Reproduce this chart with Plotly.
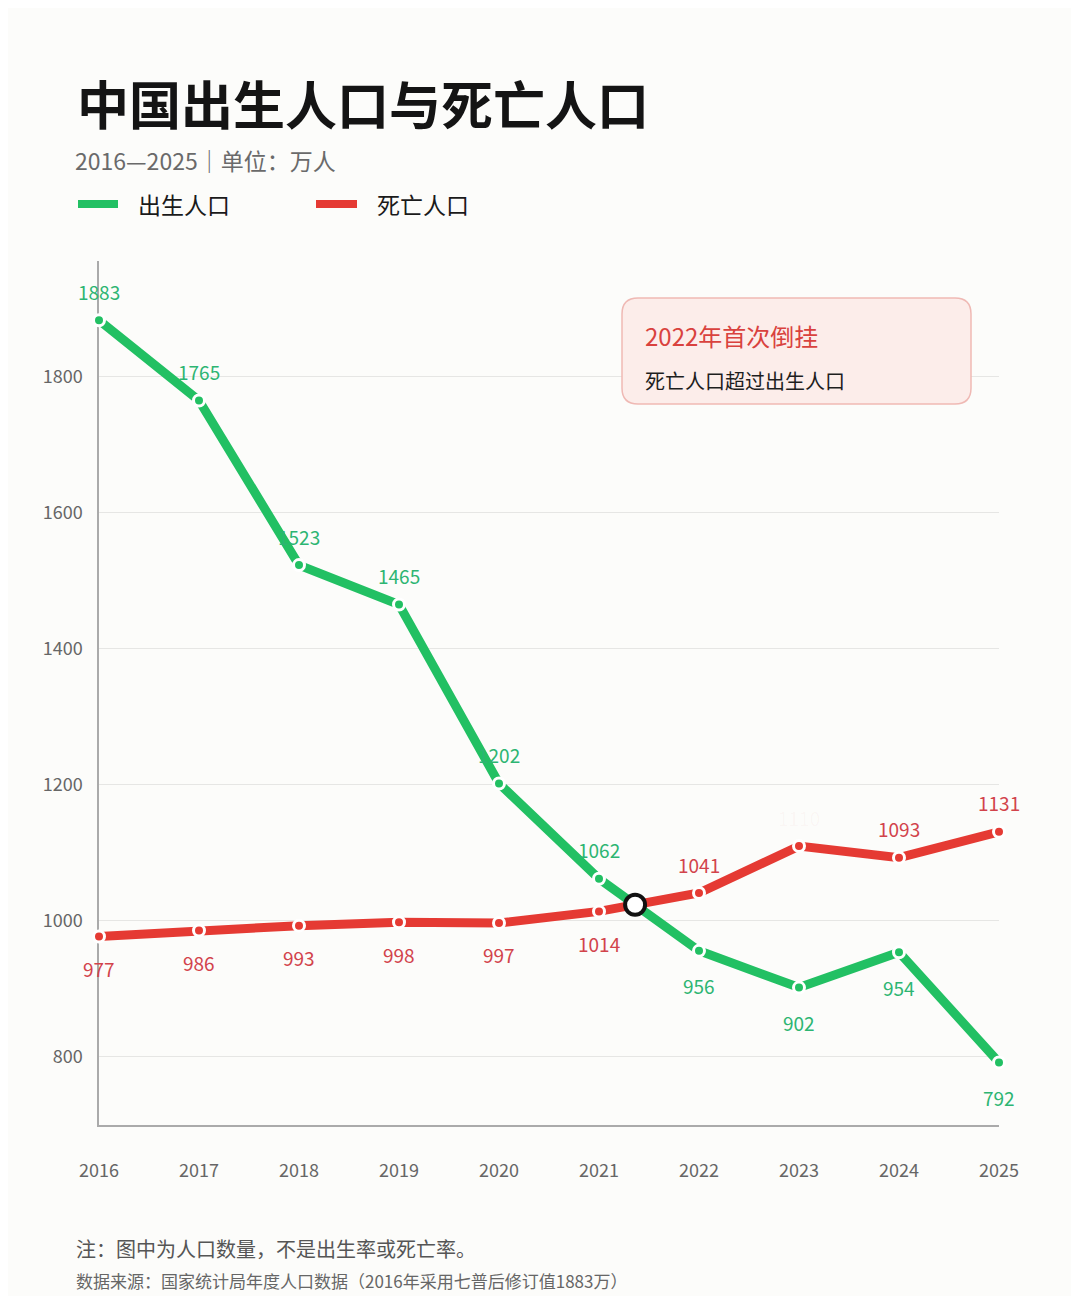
import plotly.graph_objects as go

years = [2016, 2017, 2018, 2019, 2020, 2021, 2022, 2023, 2024, 2025]
births = [1883, 1765, 1523, 1465, 1202, 1062, 956, 902, 954, 792]
deaths = [977, 986, 993, 998, 997, 1014, 1041, 1110, 1093, 1131]
y_ticks = [800, 1000, 1200, 1400, 1600, 1800]

GREEN = "#22C063"
RED = "#E53A33"
GREEN_TXT = "#2DB572"
RED_TXT = "#D2434B"
BG = "#FCFCFA"
FONT = "Noto Sans CJK SC"

# page has an 8px body margin, so work in page pixels and shift
OFF = 8
W, H = 1079 - 2 * OFF, 1304 - 2 * OFF
L, R, T, B = 99 - OFF, 999 - OFF, 261 - OFF, 1125 - OFF


def paper(x, y):
    # x, y are page pixels
    x, y = x - OFF, y - OFF
    return (x - L) / (R - L), (B - y) / (B - T)


fig = go.Figure()

for vals, col in [(deaths, RED), (births, GREEN)]:
    fig.add_trace(go.Scatter(
        x=years, y=vals, mode="lines+markers",
        line=dict(color=col, width=9),
        marker=dict(color=col, size=11, line=dict(color="white", width=3)),
        cliponaxis=False, hoverinfo="skip", showlegend=False,
    ))

# crossing point
for i in range(len(years) - 1):
    d0 = births[i] - deaths[i]
    d1 = births[i + 1] - deaths[i + 1]
    if d0 > 0 >= d1:
        t = d0 / (d0 - d1)
        cx = years[i] + t * (years[i + 1] - years[i])
        cy = deaths[i] + t * (deaths[i + 1] - deaths[i])
        fig.add_trace(go.Scatter(
            x=[cx], y=[cy], mode="markers",
            marker=dict(color="white", size=20, line=dict(color="#111111", width=4)),
            cliponaxis=False, hoverinfo="skip", showlegend=False,
        ))
        break

# value labels: upper series above, lower series below
for i, yr in enumerate(years):
    b, d = births[i], deaths[i]
    fig.add_annotation(x=yr, y=b, text=str(b), showarrow=False,
                       yshift=29 if b > d else -35,
                       font=dict(family=FONT, size=19, color=GREEN_TXT))
    dcol = RED_TXT if yr != 2023 else "rgba(210,67,75,0.04)"
    fig.add_annotation(x=yr, y=d, text=str(d), showarrow=False,
                       yshift=29 if d > b else -32,
                       font=dict(family=FONT, size=19, color=dcol))

# title block
x, y = paper(75, 103)
fig.add_annotation(xref="paper", yref="paper", x=x, y=y, xanchor="left", yanchor="middle",
                   text="中国出生人口与死亡人口", showarrow=False,
                   font=dict(family=FONT, size=52, color="#141414", weight=700))
x, y = paper(73, 160)
fig.add_annotation(xref="paper", yref="paper", x=x, y=y, xanchor="left", yanchor="middle",
                   text="2016—2025｜单位：万人", showarrow=False,
                   font=dict(family=FONT, size=23, color="#6A6A6A"))

# legend
for x0, x1, col, label in [(78, 118, GREEN, "出生人口"), (316, 357, RED, "死亡人口")]:
    a, ly = paper(x0, 204)
    b_, _ = paper(x1, 204)
    fig.add_shape(type="line", xref="paper", yref="paper", x0=a, x1=b_, y0=ly, y1=ly,
                  line=dict(color=col, width=8))
    tx, _ = paper(x1 + 18, 204)
    fig.add_annotation(xref="paper", yref="paper", x=tx, y=ly, xanchor="left", yanchor="middle",
                       text=label, showarrow=False,
                       font=dict(family=FONT, size=23, color="#1A1A1A"))

# callout box
bx0, by1 = paper(622, 298)
bx1, by0 = paper(971, 404)
rx, ry = 16 / (R - L), 16 / (B - T)
path = (f"M{bx0 + rx},{by1} L{bx1 - rx},{by1} Q{bx1},{by1} {bx1},{by1 - ry} "
        f"L{bx1},{by0 + ry} Q{bx1},{by0} {bx1 - rx},{by0} "
        f"L{bx0 + rx},{by0} Q{bx0},{by0} {bx0},{by0 + ry} "
        f"L{bx0},{by1 - ry} Q{bx0},{by1} {bx0 + rx},{by1} Z")
fig.add_shape(type="path", xref="paper", yref="paper", path=path,
              fillcolor="#FCEDEA", line=dict(color="#EFB9B4", width=1.5))
x, y = paper(643, 335)
fig.add_annotation(xref="paper", yref="paper", x=x, y=y, xanchor="left", yanchor="middle",
                   text="2022年首次倒挂", showarrow=False,
                   font=dict(family=FONT, size=24, color="#D9423E"))
x, y = paper(643, 381)
fig.add_annotation(xref="paper", yref="paper", x=x, y=y, xanchor="left", yanchor="middle",
                   text="死亡人口超过出生人口", showarrow=False,
                   font=dict(family=FONT, size=20, color="#1E1E1E"))

# footer
x, y = paper(74, 1248)
fig.add_annotation(xref="paper", yref="paper", x=x, y=y, xanchor="left", yanchor="middle",
                   text="注：图中为人口数量，不是出生率或死亡率。", showarrow=False,
                   font=dict(family=FONT, size=20, color="#555555"))
x, y = paper(74, 1280)
fig.add_annotation(xref="paper", yref="paper", x=x, y=y, xanchor="left", yanchor="middle",
                   text="数据来源：国家统计局年度人口数据（2016年采用七普后修订值1883万）", showarrow=False,
                   font=dict(family=FONT, size=17, color="#666666"))

fig.update_layout(
    width=W, height=H,
    margin=dict(l=L, r=W - R, t=T, b=H - B),
    paper_bgcolor=BG, plot_bgcolor=BG,
    font=dict(family=FONT),
    xaxis=dict(range=[years[0], years[-1]], tickvals=years, ticktext=[str(v) for v in years],
               showgrid=False, zeroline=False, showline=True, linecolor="#AAAAAA", linewidth=1.5,
               tickfont=dict(size=18, color="#666666"), ticklabelstandoff=29, fixedrange=True),
    yaxis=dict(range=[700, 1970], tickvals=y_ticks, showgrid=True, gridcolor="#E6E6E4", gridwidth=1,
               zeroline=False, showline=True, linecolor="#AAAAAA", linewidth=1.5,
               tickfont=dict(size=18, color="#666666"), ticklabelstandoff=11,
               layer="below traces", fixedrange=True),
)

fig.write_html("out.html")
